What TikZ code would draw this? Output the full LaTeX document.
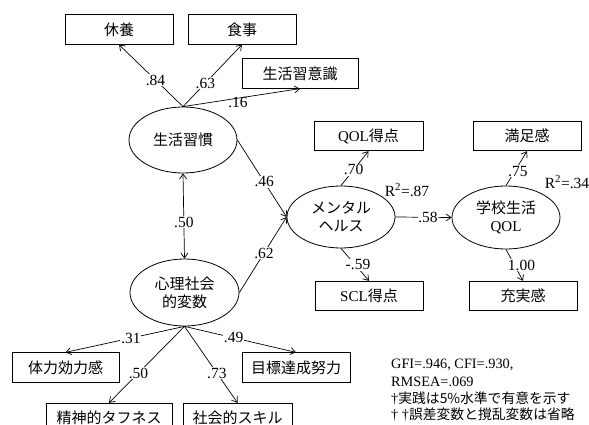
\documentclass[tikz,border=0pt]{standalone}
\usepackage{fontspec}
\setmainfont{Liberation Serif}
\newfontfamily\cjk{Noto Sans CJK JP}
\usetikzlibrary{arrows.meta,shapes.geometric}
\begin{document}
\begin{tikzpicture}[x=1pt,y=-1pt,
 box/.style={draw, line width=0.8pt, minimum width=108pt, minimum height=29.5pt, inner sep=0pt, font=\fontsize{15}{17}\selectfont},
 lat/.style={draw, ellipse, line width=0.8pt, minimum width=108pt, minimum height=64pt, inner sep=0pt, align=center, font=\fontsize{15}{18}\selectfont},
 arr/.style={line width=0.7pt, -{Straight Barb[length=5pt,width=7pt]}},
 dbl/.style={line width=0.7pt, {Straight Barb[length=5pt,width=7pt]}-{Straight Barb[length=5pt,width=7pt]}},
 lab/.style={fill=white, inner sep=0.8pt, font=\fontsize{15.5}{17}\selectfont},
 labnf/.style={inner sep=0.8pt, font=\fontsize{15.5}{17}\selectfont},
 note/.style={anchor=west, inner sep=0pt, font=\fontsize{14.3}{16}\selectfont}]
\useasboundingbox (0,0) rectangle (589,425);
\fill[white] (0,0) rectangle (589,425);
\clip (0,0) rectangle (589,425);

% observed variables
\node[box] (kyuyo) at (119,29.5) {\cjk 休養};
\node[box] (shokuji) at (242,29.5) {\cjk 食事};
\node[box, minimum width=116pt] (ishiki) at (300,73.5) {\cjk 生活習意識};
\node[box, minimum width=109pt] (qolt) at (368.5,136) {QOL{\cjk 得点}};
\node[box] (manzoku) at (527,136) {\cjk 満足感};
\node[box] (scl) at (369,296) {SCL{\cjk 得点}};
\node[box] (jujitsu) at (523,296) {\cjk 充実感};
\node[box, minimum width=107pt] (tairyoku) at (65.5,367.5) {\cjk 体力効力感};
\node[box] (mokuhyo) at (296,367.5) {\cjk 目標達成努力};
\node[box, minimum width=126pt] (seishin) at (109,418) {\cjk 精神的タフネス};
\node[box, minimum width=109pt] (shakai) at (237.5,418) {\cjk 社会的スキル};

% latent variables
\node[lat, minimum height=66pt] (ls) at (183,140) {\cjk 生活習慣};
\node[lat, minimum height=62pt] (mental) at (341,217) {\cjk メンタル\\\cjk ヘルス};
\node[lat, minimum height=63pt] (gq) at (506,217.5) {\cjk 学校生活\\QOL};
\node[lat, minimum width=109pt, minimum height=67pt] (shinri) at (184.5,292.5) {\cjk 心理社会\\\cjk 的変数};

% paths
\draw[arr] (ls.north) -- node[lab, pos=0.43] {.84} (kyuyo.south);
\draw[arr] (ls.north) -- node[lab, pos=0.38] {.63} (shokuji.south);
\draw[arr] (ls.north) -- node[labnf, pos=0.47, yshift=-4pt] {.16} (ishiki.south);
\draw[arr] (ls.east) -- node[lab, pos=0.545] {.46} (mental.west);
\draw[arr] (shinri.east) -- node[lab, pos=0.52] {.62} (mental.west);
\draw[dbl] (ls.south) -- node[lab, pos=0.57] {.50} (shinri.north);
\draw[arr] (mental.east) -- node[lab, pos=0.58] {.58} (gq.west);
\draw[arr] (mental.north) -- node[lab, pos=0.46] {.70} (qolt.south);
\draw[arr] (mental.south) -- node[lab, pos=0.5, xshift=3pt] {-.59} (scl.north);
\draw[arr] (gq.north) -- node[lab, pos=0.42, xshift=3pt] {.75} (manzoku.south);
\draw[arr] (gq.south) -- node[lab, pos=0.5, xshift=7pt] {1.00} (jujitsu.north);
\draw[arr] (shinri.south) -- node[lab, pos=0.45] {.31} (tairyoku.north);
\draw[arr] (shinri.south) -- node[lab, pos=0.44] {.49} (mokuhyo.north);
\draw[arr] (shinri.south) -- node[lab, pos=0.61] {.50} (seishin.north);
\draw[arr] (shinri.south) -- node[lab, pos=0.61] {.73} (shakai.north);

% R squared
\node[labnf] (r1) at (407,190) {R\textsuperscript{2}=.87};
\node[labnf] (r2) at (567,182) {R\textsuperscript{2}=.34};

% notes
\node[note] (n1) at (391,365) {GFI=.946, CFI=.930,};
\node[note] (n2) at (391,381.5) {RMSEA=.069};
\node[note] (n3) at (391,398.5) {†{\cjk\fontsize{13.8}{16}\selectfont 実践は5\%水準で有意を示す}};
\node[note] (n4) at (391,415) {† †{\cjk\fontsize{13.8}{16}\selectfont 誤差変数と撹乱変数は省略}};
\end{tikzpicture}
\end{document}
